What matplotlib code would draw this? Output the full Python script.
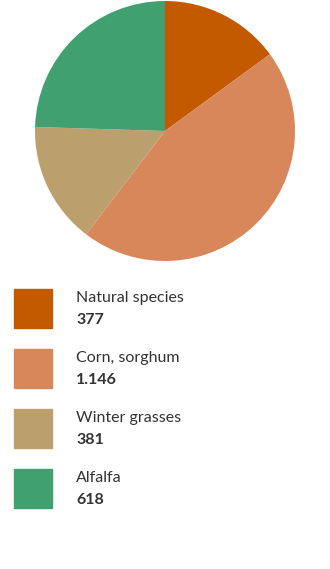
import matplotlib
matplotlib.use("Agg")
import matplotlib.pyplot as plt
from matplotlib.patches import Rectangle

labels = ["Natural species", "Corn, sorghum", "Winter grasses", "Alfalfa"]
values = [377, 1146, 381, 618]
colors = ["#C35A00", "#D8875A", "#BBA06E", "#41A070"]

W, H = 330, 569
plt.rcParams["font.family"] = ["Lato", "DejaVu Sans"]


def fmt(v: int) -> str:
    return f"{v:,}".replace(",", ".")


fig = plt.figure(figsize=(W / 100, H / 100), dpi=100)

# pie: 260 px circle, left edge at x=35, top at y=1
ax = fig.add_axes([35 / W, 1 - 261 / H, 260 / W, 260 / H])
ax.pie(values, colors=colors, startangle=90, counterclock=False, radius=1,
       wedgeprops=dict(linewidth=0))
ax.set_xlim(-1, 1)
ax.set_ylim(-1, 1)
ax.set_aspect("equal")
ax.axis("off")

# legend in pixel coordinates
for i, (lab, val, col) in enumerate(zip(labels, values, colors)):
    top = 289 + 60 * i
    fig.patches.append(Rectangle((14 / W, 1 - (top + 39) / H), 38 / W, 39 / H,
                                 transform=fig.transFigure, color=col))
    fig.text(76 / W, 1 - (top + 13) / H, lab, fontsize=11.5, color="#333333",
             va="baseline", ha="left")
    fig.text(76 / W, 1 - (top + 35) / H, fmt(val), fontsize=11.5,
             fontweight="bold", color="#333333", va="baseline", ha="left")

fig.savefig("out.png", dpi=100)
